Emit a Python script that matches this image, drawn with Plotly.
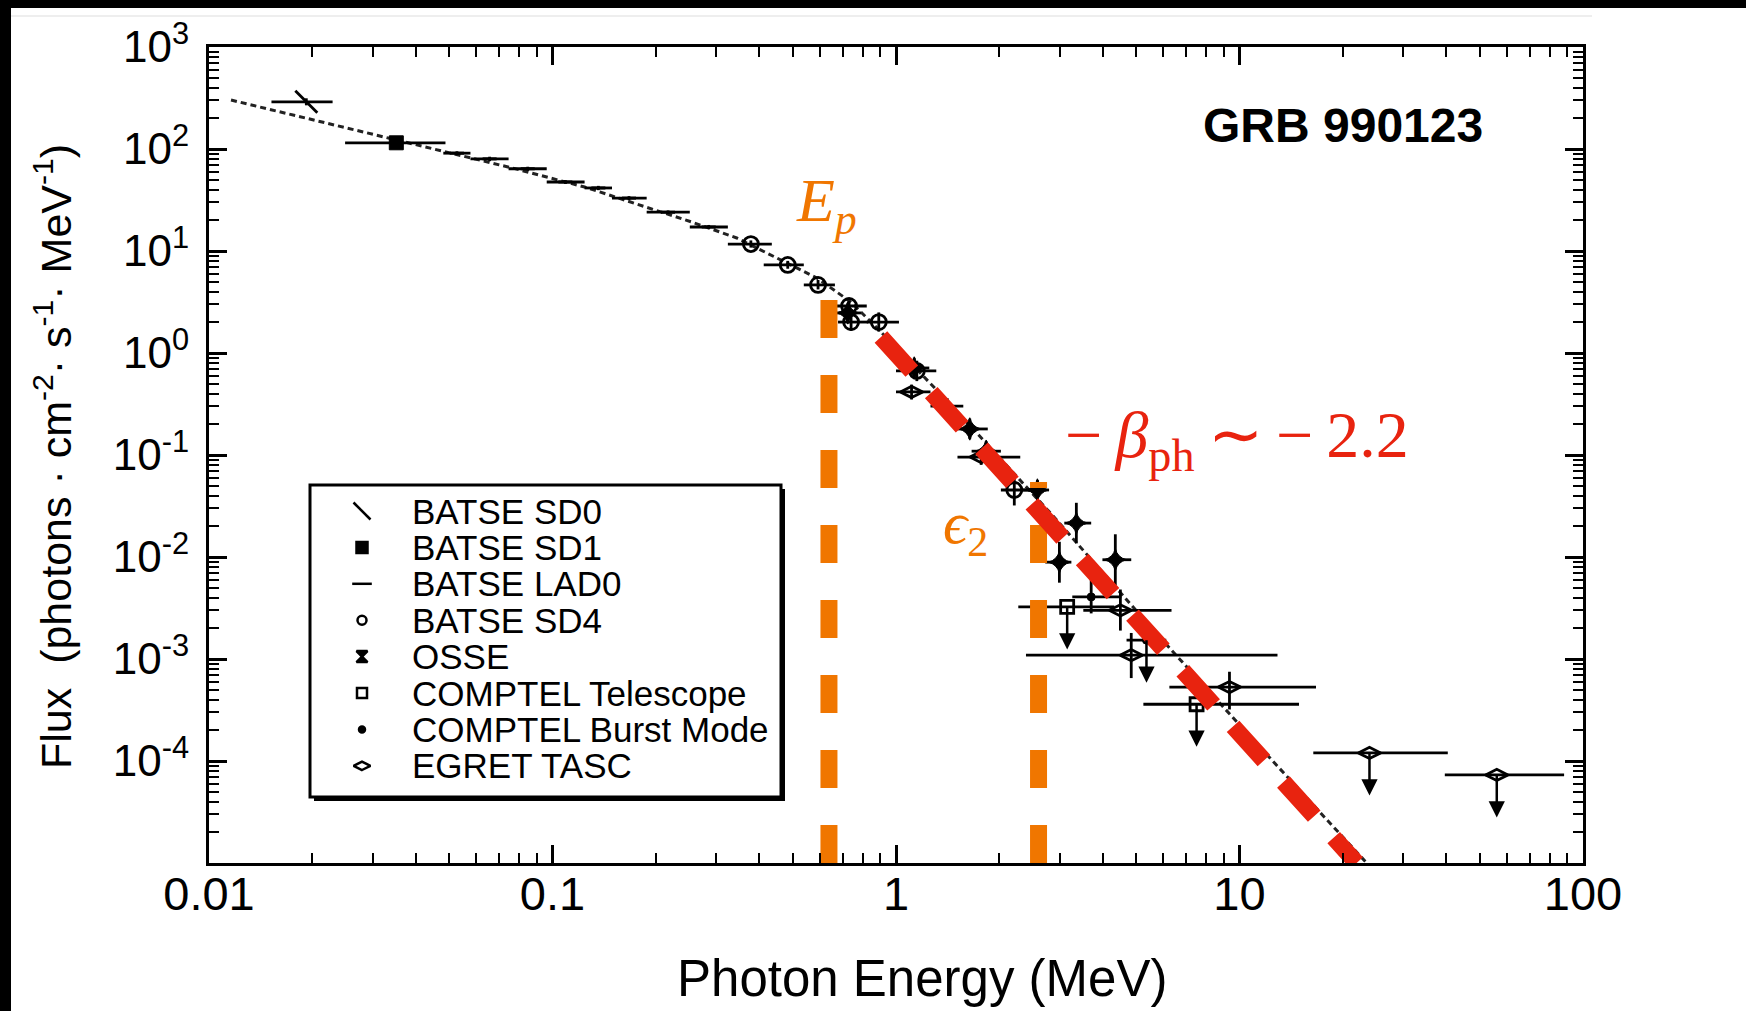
import math
import plotly.graph_objects as go

# ---------------- data ----------------
# Band-function fit (dotted black line)
fit_energy = [0.01159, 0.02314, 0.03304, 0.04875, 0.07643, 0.1240, 0.1880, 0.2542, 0.3439,
              0.4621, 0.5884, 0.7391, 0.9044, 1.446, 2.831, 5.885, 10.84, 23.46]
fit_flux = [302, 171.9, 128.2, 93.5, 65.1, 42.4, 27.0, 19.25, 13.41,
            8.16, 5.44, 3.16, 1.607, 0.3092, 0.02640, 0.001607, 1.681e-4, 1.0e-5]

# BATSE SD0
sd0_energy = [0.0192]
sd0_elo = [0.0152]
sd0_ehi = [0.0229]
sd0_flux = [290]
sd0_flo = [268]
sd0_fhi = [314]

# BATSE SD1
sd1_energy = [0.0351]
sd1_elo = [0.0249]
sd1_ehi = [0.0488]
sd1_flux = [115]
sd1_flo = [109]
sd1_fhi = [121]

# BATSE LAD0
lad0_energy = [0.0527, 0.0656, 0.0847, 0.109, 0.136, 0.167, 0.217, 0.285]
lad0_elo = [0.0481, 0.0577, 0.0745, 0.0962, 0.124, 0.149, 0.188, 0.251]
lad0_ehi = [0.0577, 0.0745, 0.0962, 0.124, 0.149, 0.188, 0.251, 0.324]
lad0_flux = [91, 80, 64, 47.5, 41.5, 33, 24, 17.2]
lad0_flo = [87, 76, 61, 45.5, 39.5, 31.5, 23, 16.4]
lad0_fhi = [95, 84, 67, 49.5, 43.5, 34.5, 25, 18.0]

# BATSE SD4
sd4_energy = [0.378, 0.484, 0.593, 0.730, 0.740, 0.891, 1.15, 2.21]
sd4_elo = [0.324, 0.412, 0.539, 0.664, 0.678, 0.822, 1.00, 2.02]
sd4_ehi = [0.435, 0.539, 0.664, 0.822, 0.828, 1.02, 1.31, 2.65]
sd4_flux = [11.7, 7.3, 4.65, 2.89, 2.01, 2.01, 0.667, 0.0454]
sd4_flo = [10.8, 6.7, 4.2, 2.55, 1.65, 1.62, 0.53, 0.032]
sd4_fhi = [12.7, 8.0, 5.2, 3.25, 2.45, 2.5, 0.84, 0.064]

# OSSE
osse_energy = [0.724, 1.13, 1.64, 1.83, 2.58, 3.35, 2.99, 4.35]
osse_elo = [0.668, 1.035, 1.51, 1.66, 2.31, 3.09, 2.72, 3.99]
osse_ehi = [0.791, 1.25, 1.85, 2.02, 2.79, 3.70, 3.24, 4.84]
osse_flux = [2.47, 0.713, 0.180, 0.109, 0.0454, 0.0215, 0.0089, 0.0094]
osse_flo = [1.96, 0.566, 0.143, 0.087, 0.036, 0.0136, 0.0056, 0.0053]
osse_fhi = [3.11, 0.898, 0.227, 0.137, 0.057, 0.034, 0.0141, 0.0167]

# COMPTEL Telescope (upper limits)
tel_energy = [3.15, 7.50]
tel_elo = [2.27, 5.25]
tel_ehi = [4.32, 14.9]
tel_flux = [0.00324, 3.6e-4]
tel_flo = [None, None]
tel_fhi = [None, None]
tel_ul = [True, True]

# COMPTEL Burst Mode
bm_energy = [1.41, 3.70, 5.36]
bm_elo = [1.26, 3.26, 4.69]
bm_ehi = [1.57, 4.53, 6.12]
bm_flux = [0.302, 0.00406, 0.00153]
bm_flo = [0.25, 0.0028, None]
bm_fhi = [0.36, 0.0060, None]
bm_ul = [False, False, True]

# EGRET TASC
eg_energy = [1.11, 1.77, 4.50, 4.84, 9.35, 23.9, 56.1]
eg_elo = [1.00, 1.51, 3.51, 2.39, 6.25, 16.4, 39.6]
eg_ehi = [1.26, 2.30, 6.34, 12.9, 16.7, 40.4, 88.1]
eg_flux = [0.415, 0.0955, 0.0030, 0.00109, 5.3e-4, 1.2e-4, 7.3e-5]
eg_flo = [0.35, 0.080, 0.0019, 6.5e-4, 3.2e-4, None, None]
eg_fhi = [0.49, 0.115, 0.0048, 0.0018, 7.5e-4, None, None]
eg_ul = [False, False, False, False, False, True, True]

# Marked energies
ep_energy = 0.638          # E_p
ep_line_flux = [1.0e-5, 3.46]
eps2_energy = 2.60         # epsilon_2
eps2_line_flux = [1.0e-5, 0.0543]
slope_energy = [0.904, 21.93]   # -beta_ph line
slope_flux = [1.436, 1.0e-5]

x_tickvals = [0.01, 0.1, 1, 10, 100]
x_ticktext = ["0.01", "0.1", "1", "10", "100"]
y_tickvals = [1e-4, 1e-3, 1e-2, 1e-1, 1, 10, 100, 1000]
y_ticktext = ["10<sup>-4</sup>", "10<sup>-3</sup>", "10<sup>-2</sup>", "10<sup>-1</sup>",
              "10<sup>0</sup>", "10<sup>1</sup>", "10<sup>2</sup>", "10<sup>3</sup>"]

legend_labels = ["BATSE SD0", "BATSE SD1", "BATSE LAD0", "BATSE SD4", "OSSE",
                 "COMPTEL Telescope", "COMPTEL Burst Mode", "EGRET TASC"]

ORANGE = "#F07600"
RED = "#E8230F"
FONT = "Liberation Sans, Arial, sans-serif"
SERIF = "Liberation Serif, Times New Roman, serif"

fig = go.Figure()

# fit line
fig.add_trace(go.Scatter(x=fit_energy, y=fit_flux, mode="lines",
                         line=dict(color="#222222", width=3, dash="6px,4px"),
                         hoverinfo="skip", showlegend=False))


def add_points(E, Elo, Ehi, F, Flo, Fhi, symbol, size, lw=2.5, color="black"):
    ex_p = [h - e for e, h in zip(E, Ehi)]
    ex_m = [e - l for e, l in zip(E, Elo)]
    ey_p = [(h - f) if h is not None else 0 for f, h in zip(F, Fhi)]
    ey_m = [(f - l) if l is not None else 0 for f, l in zip(F, Flo)]
    fig.add_trace(go.Scatter(
        x=E, y=F, mode="markers",
        marker=dict(symbol=symbol, size=size, color=color,
                    line=dict(color="black", width=lw)),
        error_x=dict(type="data", symmetric=False, array=ex_p, arrayminus=ex_m,
                     color="black", thickness=2.8, width=0),
        error_y=dict(type="data", symmetric=False, array=ey_p, arrayminus=ey_m,
                     color="black", thickness=2.8, width=0),
        hoverinfo="skip", showlegend=False))


add_points(sd0_energy, sd0_elo, sd0_ehi, sd0_flux, sd0_flo, sd0_fhi, "line-nw", 22, 2.8)
add_points(sd1_energy, sd1_elo, sd1_ehi, sd1_flux, sd1_flo, sd1_fhi, "square", 14, 1)
add_points(lad0_energy, lad0_elo, lad0_ehi, lad0_flux, lad0_flo, lad0_fhi, "line-ew", 10, 3)
add_points(sd4_energy, sd4_elo, sd4_ehi, sd4_flux, sd4_flo, sd4_fhi, "circle-open", 15, 2.8)
add_points(osse_energy, osse_elo, osse_ehi, osse_flux, osse_flo, osse_fhi, "star-diamond", 16, 1)
add_points(tel_energy, tel_elo, tel_ehi, tel_flux, tel_flo, tel_fhi, "square-open", 13, 2.8)
add_points(bm_energy, bm_elo, bm_ehi, bm_flux, bm_flo, bm_fhi, "circle", 8, 1)
add_points(eg_energy, eg_elo, eg_ehi, eg_flux, eg_flo, eg_fhi, "diamond-wide-open", 16, 2.8)

# upper-limit arrows
annotations = []
for E, F, U in [(tel_energy, tel_flux, tel_ul), (bm_energy, bm_flux, bm_ul), (eg_energy, eg_flux, eg_ul)]:
    for e, f, u in zip(E, F, U):
        if u:
            annotations.append(dict(x=math.log10(e), y=math.log10(f), xref="x", yref="y",
                                    text="", showarrow=True, ax=0, ay=44,
                                    axref="pixel", ayref="pixel",
                                    arrowside="start", startarrowhead=2, startarrowsize=1.3,
                                    arrowwidth=2.5, arrowcolor="black",
                                    standoff=0, startstandoff=0))

# orange marker lines (drawn from the bottom up)
fig.add_trace(go.Scatter(x=[ep_energy, ep_energy], y=ep_line_flux, mode="lines",
                         line=dict(color=ORANGE, width=17, dash="38px,37px"),
                         hoverinfo="skip", showlegend=False))
fig.add_trace(go.Scatter(x=[eps2_energy, eps2_energy], y=eps2_line_flux, mode="lines",
                         line=dict(color=ORANGE, width=17, dash="38px,37px"),
                         hoverinfo="skip", showlegend=False))
# red slope line
fig.add_trace(go.Scatter(x=slope_energy, y=slope_flux, mode="lines",
                         line=dict(color=RED, width=17, dash="46px,29px"),
                         hoverinfo="skip", showlegend=False))

# ---------------- manual legend ----------------
L, R, T, B = 209, 1583, 47, 863
PW, PH = R - L, B - T


def px(xp):
    return (xp - L) / PW


def py(yp):
    return (B - yp) / PH


legend_symbols = ["line-nw", "square", "line-ew", "circle-open", "hourglass",
                  "square-open", "circle", "diamond-wide-open"]
legend_sizes = [17, 11, 14, 9, 11, 10, 6, 12]
row_y = [511 + 36.4 * i for i in range(len(legend_labels))]
for sym, sz, yy in zip(legend_symbols, legend_sizes, row_y):
    fig.add_trace(go.Scatter(x=[px(362)], y=[py(yy)], mode="markers", xaxis="x2", yaxis="y2",
                             marker=dict(symbol=sym, size=sz, color="black",
                                         line=dict(color="black", width=2.5)),
                             hoverinfo="skip", showlegend=False))
for lab, yy in zip(legend_labels, row_y):
    annotations.append(dict(x=px(410), y=py(yy), xref="paper", yref="paper", text=lab,
                            showarrow=False, xanchor="left", yanchor="middle",
                            font=dict(family=FONT, size=35, color="black")))

shapes = [
    # legend shadow + box
    dict(type="rect", xref="paper", yref="paper", x0=px(314), x1=px(785), y0=py(801), y1=py(489),
         fillcolor="black", line=dict(width=0), layer="below"),
    dict(type="rect", xref="paper", yref="paper", x0=px(310), x1=px(781), y0=py(797), y1=py(485),
         fillcolor="white", line=dict(color="black", width=3), layer="below"),
    # black frame bands of the picture
    dict(type="rect", xref="paper", yref="paper", x0=px(0), x1=px(11), y0=py(1011), y1=py(0),
         fillcolor="black", line=dict(width=0)),
    dict(type="rect", xref="paper", yref="paper", x0=px(0), x1=px(1746), y0=py(8), y1=py(0),
         fillcolor="black", line=dict(width=0)),
    dict(type="line", xref="paper", yref="paper", x0=px(11), x1=px(1592), y0=py(16), y1=py(16),
         line=dict(color="#dddddd", width=1)),
]

annotations += [
    dict(x=px(1343), y=py(125), xref="paper", yref="paper", text="<b>GRB 990123</b>",
         showarrow=False, xanchor="center", yanchor="middle",
         font=dict(family=FONT, size=48, color="black")),
    dict(x=px(794), y=py(205), xref="paper", yref="paper",
         text="<i>E</i><sub><i>p</i></sub>", showarrow=False, xanchor="left", yanchor="middle",
         font=dict(family=SERIF, size=62, color=ORANGE)),
    dict(x=px(941), y=py(527), xref="paper", yref="paper",
         text="<i>ϵ</i><sub>2</sub>", showarrow=False, xanchor="left", yanchor="middle",
         font=dict(family=SERIF, size=60, color=ORANGE)),
    dict(x=px(1063), y=py(440), xref="paper", yref="paper",
         text="−\u2009<i>β</i><sub>ph</sub>\u2009∼\u2009−\u20092.2", showarrow=False,
         xanchor="left", yanchor="middle",
         font=dict(family=SERIF, size=66, color=RED)),
    dict(x=px(922), y=py(978), xref="paper", yref="paper", text="Photon Energy (MeV)",
         showarrow=False, xanchor="center", yanchor="middle",
         font=dict(family=FONT, size=51, color="black")),
    dict(x=px(53), y=py(457), xref="paper", yref="paper", textangle=-90,
         text="Flux  (photons · cm<sup>-2</sup>· s<sup>-1</sup>· MeV<sup>-1</sup>)",
         showarrow=False, xanchor="center", yanchor="middle",
         font=dict(family=FONT, size=43, color="black")),
]

axis_common = dict(type="log", showgrid=False, zeroline=False, showline=True,
                   linecolor="black", linewidth=3, mirror="allticks",
                   ticks="inside", ticklen=18, tickwidth=2.5, tickcolor="black",
                   minor=dict(ticks="inside", ticklen=10, tickwidth=2, tickcolor="black",
                              dtick="D1", showgrid=False))

fig.update_layout(
    width=1746, height=1011, autosize=False,
    margin=dict(l=L, r=1746 - R, t=T, b=1011 - B, pad=0),
    paper_bgcolor="white", plot_bgcolor="white",
    showlegend=False, hovermode=False,
    xaxis=dict(**axis_common, range=[-2, 2], tickmode="array", tickvals=x_tickvals,
               ticktext=x_ticktext, ticklabelstandoff=-12,
               tickfont=dict(family=FONT, size=47, color="black")),
    yaxis=dict(**axis_common, range=[-5, 3], tickmode="array", tickvals=y_tickvals,
               ticktext=y_ticktext, ticklabelstandoff=8,
               tickfont=dict(family=FONT, size=44, color="black")),
    xaxis2=dict(overlaying="x", anchor="y2", range=[0, 1], visible=False, fixedrange=True),
    yaxis2=dict(overlaying="y", anchor="x2", range=[0, 1], visible=False, fixedrange=True),
    shapes=shapes, annotations=annotations,
)

fig.write_html("out.html")
